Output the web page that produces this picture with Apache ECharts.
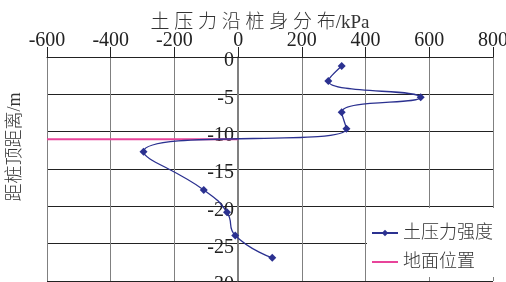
<!DOCTYPE html>
<html>
<head>
<meta charset="utf-8">
<script src="https://cdn.jsdelivr.net/npm/echarts@6/dist/echarts.min.js"></script>
<style>
  html, body { margin: 0; padding: 0; background: #fff; }
  #chart { width: 506px; height: 282px; }
</style>
</head>
<body>
<div id="chart"></div>
<script>
// soil pressure along the pile (kPa) vs depth below pile top (m)
var pressure = [325, 283, 573, 325, 340, -297, -108, -35, -9, 107];
var depth = [-1.2, -3.2, -5.4, -7.4, -9.6, -12.7, -17.8, -20.8, -23.9, -26.9];
var groundX = [-600, 0];
var groundDepth = [-11, -11];
var seriesNames = ['土压力强度', '地面位置'];

var serif = "'Liberation Serif', 'Noto Sans CJK SC', serif";

var myChart = echarts.init(document.getElementById('chart'));

var pressureData = pressure.map(function (v, i) { return [v, depth[i]]; });
var groundData = groundX.map(function (v, i) { return [v, groundDepth[i]]; });

var option = {
  animation: false,
  title: {
    text: '土 压 力 沿 桩 身 分 布/kPa',
    left: 255,
    textAlign: 'center',
    top: 9,
    textStyle: { fontFamily: serif, fontSize: 19, fontWeight: 300, color: '#333' }
  },
  graphic: [{
    type: 'text',
    x: 15,
    y: 147,
    rotation: Math.PI / 2,
    style: {
      text: '距桩顶距离/m',
      font: '300 18px ' + serif,
      fill: '#333',
      align: 'center',
      verticalAlign: 'middle'
    }
  }],
  legend: {
    data: [
      { name: seriesNames[0] },
      { name: seriesNames[1], itemStyle: { opacity: 0 } }
    ],
    orient: 'vertical',
    left: 367,
    top: 208,
    width: 125,
    padding: [16, 2, 6, 4],
    itemWidth: 26,
    itemHeight: 8,
    itemGap: 11,
    backgroundColor: '#fff',
    textStyle: { fontFamily: serif, fontSize: 18, fontWeight: 300, color: '#333' }
  },
  grid: { left: 47, right: 13, top: 57, bottom: 1, outerBoundsMode: 'none', containLabel: false },
  xAxis: {
    type: 'value',
    position: 'top',
    min: -600,
    max: 800,
    interval: 200,
    axisLine: { onZero: false, lineStyle: { color: '#222', width: 1 } },
    axisTick: { show: true, length: 10, lineStyle: { color: '#222' } },
    axisLabel: { margin: 6, fontFamily: serif, fontSize: 20, color: '#222' },
    splitLine: { show: true, lineStyle: { color: '#808080', width: 1 } }
  },
  yAxis: {
    type: 'value',
    position: 'left',
    offset: -190,
    min: -30,
    max: 0,
    interval: 5,
    axisLine: { onZero: false, lineStyle: { color: '#808080', width: 1 } },
    axisTick: { show: false },
    axisLabel: {
      margin: 3, verticalAlign: 'top', lineHeight: 8,
      fontFamily: serif, fontSize: 20, color: '#222'
    },
    splitLine: { show: true, lineStyle: { color: '#222', width: 1 } }
  },
  series: [
    {
      name: seriesNames[0],
      type: 'line',
      data: pressureData,
      smooth: 0.5,
      symbol: 'diamond',
      symbolSize: 8,
      color: '#2b3190',
      lineStyle: { color: '#2b3190', width: 1.3 },
      itemStyle: { color: '#2b3190' },
      z: 3
    },
    {
      name: seriesNames[1],
      type: 'line',
      data: groundData,
      symbol: 'none',
      color: '#e8449a',
      lineStyle: { color: '#e8449a', width: 2 },
      z: 2
    }
  ]
};

myChart.setOption(option);
</script>
</body>
</html>
